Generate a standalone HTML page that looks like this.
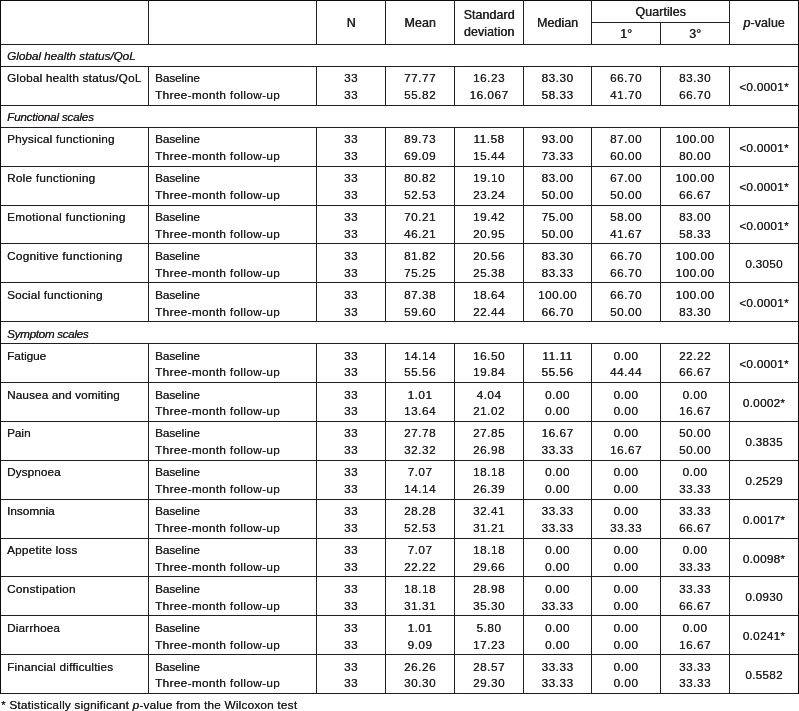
<!DOCTYPE html>
<html><head><meta charset="utf-8"><title>Table</title>
<style>
html,body{margin:0;padding:0;background:#fff;}
body{width:799px;height:711px;overflow:hidden;position:relative;}
.l{position:absolute;display:block;background:#231f20;}
.e{background:#0d0a0b;}
.t{position:absolute;white-space:nowrap;font-family:"Liberation Sans",sans-serif;font-size:11.8px;line-height:17px;height:17px;color:#231f20;letter-spacing:0.25px;text-shadow:0.2px 0 0 #231f20;}
.n{letter-spacing:0.5px;}
.c{text-align:center;}
.h{text-shadow:0.45px 0 0 #231f20;font-size:12.4px;letter-spacing:0.1px;}
.s{font-style:italic;}

em{font-style:italic;}
</style></head><body>
<i class="l e" style="left:0px;top:0px;width:799px;height:1px"></i>
<i class="l" style="left:0px;top:44px;width:799px;height:1px"></i>
<i class="l" style="left:0px;top:66px;width:799px;height:1px"></i>
<i class="l" style="left:0px;top:105px;width:799px;height:1px"></i>
<i class="l" style="left:0px;top:127px;width:799px;height:1px"></i>
<i class="l" style="left:0px;top:166px;width:799px;height:1px"></i>
<i class="l" style="left:0px;top:205px;width:799px;height:1px"></i>
<i class="l" style="left:0px;top:243px;width:799px;height:1px"></i>
<i class="l" style="left:0px;top:282px;width:799px;height:1px"></i>
<i class="l" style="left:0px;top:321px;width:799px;height:1px"></i>
<i class="l" style="left:0px;top:343px;width:799px;height:1px"></i>
<i class="l" style="left:0px;top:382px;width:799px;height:1px"></i>
<i class="l" style="left:0px;top:421px;width:799px;height:1px"></i>
<i class="l" style="left:0px;top:460px;width:799px;height:1px"></i>
<i class="l" style="left:0px;top:499px;width:799px;height:1px"></i>
<i class="l" style="left:0px;top:538px;width:799px;height:1px"></i>
<i class="l" style="left:0px;top:576px;width:799px;height:1px"></i>
<i class="l" style="left:0px;top:615px;width:799px;height:1px"></i>
<i class="l" style="left:0px;top:654px;width:799px;height:1px"></i>
<i class="l" style="left:0px;top:693px;width:799px;height:1px"></i>
<i class="l" style="left:591px;top:22px;width:139px;height:1px"></i>
<i class="l e" style="left:0px;top:0px;width:1px;height:694px"></i>
<i class="l e" style="left:798px;top:0px;width:1px;height:694px"></i>
<i class="l" style="left:148px;top:0px;width:1px;height:45px"></i>
<i class="l" style="left:316px;top:0px;width:1px;height:45px"></i>
<i class="l" style="left:385px;top:0px;width:1px;height:45px"></i>
<i class="l" style="left:454px;top:0px;width:1px;height:45px"></i>
<i class="l" style="left:523px;top:0px;width:1px;height:45px"></i>
<i class="l" style="left:591px;top:0px;width:1px;height:45px"></i>
<i class="l" style="left:660px;top:22px;width:1px;height:23px"></i>
<i class="l" style="left:729px;top:0px;width:1px;height:45px"></i>
<i class="l" style="left:148px;top:66px;width:1px;height:40px"></i>
<i class="l" style="left:316px;top:66px;width:1px;height:40px"></i>
<i class="l" style="left:385px;top:66px;width:1px;height:40px"></i>
<i class="l" style="left:454px;top:66px;width:1px;height:40px"></i>
<i class="l" style="left:523px;top:66px;width:1px;height:40px"></i>
<i class="l" style="left:591px;top:66px;width:1px;height:40px"></i>
<i class="l" style="left:660px;top:66px;width:1px;height:40px"></i>
<i class="l" style="left:729px;top:66px;width:1px;height:40px"></i>
<i class="l" style="left:148px;top:127px;width:1px;height:40px"></i>
<i class="l" style="left:316px;top:127px;width:1px;height:40px"></i>
<i class="l" style="left:385px;top:127px;width:1px;height:40px"></i>
<i class="l" style="left:454px;top:127px;width:1px;height:40px"></i>
<i class="l" style="left:523px;top:127px;width:1px;height:40px"></i>
<i class="l" style="left:591px;top:127px;width:1px;height:40px"></i>
<i class="l" style="left:660px;top:127px;width:1px;height:40px"></i>
<i class="l" style="left:729px;top:127px;width:1px;height:40px"></i>
<i class="l" style="left:148px;top:166px;width:1px;height:40px"></i>
<i class="l" style="left:316px;top:166px;width:1px;height:40px"></i>
<i class="l" style="left:385px;top:166px;width:1px;height:40px"></i>
<i class="l" style="left:454px;top:166px;width:1px;height:40px"></i>
<i class="l" style="left:523px;top:166px;width:1px;height:40px"></i>
<i class="l" style="left:591px;top:166px;width:1px;height:40px"></i>
<i class="l" style="left:660px;top:166px;width:1px;height:40px"></i>
<i class="l" style="left:729px;top:166px;width:1px;height:40px"></i>
<i class="l" style="left:148px;top:205px;width:1px;height:39px"></i>
<i class="l" style="left:316px;top:205px;width:1px;height:39px"></i>
<i class="l" style="left:385px;top:205px;width:1px;height:39px"></i>
<i class="l" style="left:454px;top:205px;width:1px;height:39px"></i>
<i class="l" style="left:523px;top:205px;width:1px;height:39px"></i>
<i class="l" style="left:591px;top:205px;width:1px;height:39px"></i>
<i class="l" style="left:660px;top:205px;width:1px;height:39px"></i>
<i class="l" style="left:729px;top:205px;width:1px;height:39px"></i>
<i class="l" style="left:148px;top:243px;width:1px;height:40px"></i>
<i class="l" style="left:316px;top:243px;width:1px;height:40px"></i>
<i class="l" style="left:385px;top:243px;width:1px;height:40px"></i>
<i class="l" style="left:454px;top:243px;width:1px;height:40px"></i>
<i class="l" style="left:523px;top:243px;width:1px;height:40px"></i>
<i class="l" style="left:591px;top:243px;width:1px;height:40px"></i>
<i class="l" style="left:660px;top:243px;width:1px;height:40px"></i>
<i class="l" style="left:729px;top:243px;width:1px;height:40px"></i>
<i class="l" style="left:148px;top:282px;width:1px;height:40px"></i>
<i class="l" style="left:316px;top:282px;width:1px;height:40px"></i>
<i class="l" style="left:385px;top:282px;width:1px;height:40px"></i>
<i class="l" style="left:454px;top:282px;width:1px;height:40px"></i>
<i class="l" style="left:523px;top:282px;width:1px;height:40px"></i>
<i class="l" style="left:591px;top:282px;width:1px;height:40px"></i>
<i class="l" style="left:660px;top:282px;width:1px;height:40px"></i>
<i class="l" style="left:729px;top:282px;width:1px;height:40px"></i>
<i class="l" style="left:148px;top:343px;width:1px;height:40px"></i>
<i class="l" style="left:316px;top:343px;width:1px;height:40px"></i>
<i class="l" style="left:385px;top:343px;width:1px;height:40px"></i>
<i class="l" style="left:454px;top:343px;width:1px;height:40px"></i>
<i class="l" style="left:523px;top:343px;width:1px;height:40px"></i>
<i class="l" style="left:591px;top:343px;width:1px;height:40px"></i>
<i class="l" style="left:660px;top:343px;width:1px;height:40px"></i>
<i class="l" style="left:729px;top:343px;width:1px;height:40px"></i>
<i class="l" style="left:148px;top:382px;width:1px;height:40px"></i>
<i class="l" style="left:316px;top:382px;width:1px;height:40px"></i>
<i class="l" style="left:385px;top:382px;width:1px;height:40px"></i>
<i class="l" style="left:454px;top:382px;width:1px;height:40px"></i>
<i class="l" style="left:523px;top:382px;width:1px;height:40px"></i>
<i class="l" style="left:591px;top:382px;width:1px;height:40px"></i>
<i class="l" style="left:660px;top:382px;width:1px;height:40px"></i>
<i class="l" style="left:729px;top:382px;width:1px;height:40px"></i>
<i class="l" style="left:148px;top:421px;width:1px;height:40px"></i>
<i class="l" style="left:316px;top:421px;width:1px;height:40px"></i>
<i class="l" style="left:385px;top:421px;width:1px;height:40px"></i>
<i class="l" style="left:454px;top:421px;width:1px;height:40px"></i>
<i class="l" style="left:523px;top:421px;width:1px;height:40px"></i>
<i class="l" style="left:591px;top:421px;width:1px;height:40px"></i>
<i class="l" style="left:660px;top:421px;width:1px;height:40px"></i>
<i class="l" style="left:729px;top:421px;width:1px;height:40px"></i>
<i class="l" style="left:148px;top:460px;width:1px;height:40px"></i>
<i class="l" style="left:316px;top:460px;width:1px;height:40px"></i>
<i class="l" style="left:385px;top:460px;width:1px;height:40px"></i>
<i class="l" style="left:454px;top:460px;width:1px;height:40px"></i>
<i class="l" style="left:523px;top:460px;width:1px;height:40px"></i>
<i class="l" style="left:591px;top:460px;width:1px;height:40px"></i>
<i class="l" style="left:660px;top:460px;width:1px;height:40px"></i>
<i class="l" style="left:729px;top:460px;width:1px;height:40px"></i>
<i class="l" style="left:148px;top:499px;width:1px;height:40px"></i>
<i class="l" style="left:316px;top:499px;width:1px;height:40px"></i>
<i class="l" style="left:385px;top:499px;width:1px;height:40px"></i>
<i class="l" style="left:454px;top:499px;width:1px;height:40px"></i>
<i class="l" style="left:523px;top:499px;width:1px;height:40px"></i>
<i class="l" style="left:591px;top:499px;width:1px;height:40px"></i>
<i class="l" style="left:660px;top:499px;width:1px;height:40px"></i>
<i class="l" style="left:729px;top:499px;width:1px;height:40px"></i>
<i class="l" style="left:148px;top:538px;width:1px;height:39px"></i>
<i class="l" style="left:316px;top:538px;width:1px;height:39px"></i>
<i class="l" style="left:385px;top:538px;width:1px;height:39px"></i>
<i class="l" style="left:454px;top:538px;width:1px;height:39px"></i>
<i class="l" style="left:523px;top:538px;width:1px;height:39px"></i>
<i class="l" style="left:591px;top:538px;width:1px;height:39px"></i>
<i class="l" style="left:660px;top:538px;width:1px;height:39px"></i>
<i class="l" style="left:729px;top:538px;width:1px;height:39px"></i>
<i class="l" style="left:148px;top:576px;width:1px;height:40px"></i>
<i class="l" style="left:316px;top:576px;width:1px;height:40px"></i>
<i class="l" style="left:385px;top:576px;width:1px;height:40px"></i>
<i class="l" style="left:454px;top:576px;width:1px;height:40px"></i>
<i class="l" style="left:523px;top:576px;width:1px;height:40px"></i>
<i class="l" style="left:591px;top:576px;width:1px;height:40px"></i>
<i class="l" style="left:660px;top:576px;width:1px;height:40px"></i>
<i class="l" style="left:729px;top:576px;width:1px;height:40px"></i>
<i class="l" style="left:148px;top:615px;width:1px;height:40px"></i>
<i class="l" style="left:316px;top:615px;width:1px;height:40px"></i>
<i class="l" style="left:385px;top:615px;width:1px;height:40px"></i>
<i class="l" style="left:454px;top:615px;width:1px;height:40px"></i>
<i class="l" style="left:523px;top:615px;width:1px;height:40px"></i>
<i class="l" style="left:591px;top:615px;width:1px;height:40px"></i>
<i class="l" style="left:660px;top:615px;width:1px;height:40px"></i>
<i class="l" style="left:729px;top:615px;width:1px;height:40px"></i>
<i class="l" style="left:148px;top:654px;width:1px;height:40px"></i>
<i class="l" style="left:316px;top:654px;width:1px;height:40px"></i>
<i class="l" style="left:385px;top:654px;width:1px;height:40px"></i>
<i class="l" style="left:454px;top:654px;width:1px;height:40px"></i>
<i class="l" style="left:523px;top:654px;width:1px;height:40px"></i>
<i class="l" style="left:591px;top:654px;width:1px;height:40px"></i>
<i class="l" style="left:660px;top:654px;width:1px;height:40px"></i>
<i class="l" style="left:729px;top:654px;width:1px;height:40px"></i>
<div class="t c h" style="left:317px;top:15.30px;width:68px">N</div>
<div class="t c h" style="left:386px;top:15.30px;width:68px">Mean</div>
<div class="t c h" style="left:455px;top:7.00px;width:68px">Standard</div>
<div class="t c h" style="left:455px;top:24.00px;width:68px">deviation</div>
<div class="t c h" style="left:524px;top:15.30px;width:67px">Median</div>
<div class="t c h" style="left:592px;top:3.90px;width:137px">Quartiles</div>
<div class="t c h" style="left:592px;top:25.80px;width:68px">1°</div>
<div class="t c h" style="left:661px;top:25.80px;width:68px">3°</div>
<div class="t c h" style="left:730px;top:15.30px;width:68px"><em>p</em>-value</div>
<div class="t s" style="left:7px;top:48.30px;letter-spacing:-0.05px">Global health status/QoL</div>
<div class="t s" style="left:7px;top:109.30px;letter-spacing:-0.27px">Functional scales</div>
<div class="t s" style="left:7px;top:326.30px;letter-spacing:-0.38px">Symptom scales</div>
<div class="t" style="left:7px;top:70.30px;letter-spacing:0.191px">Global health status/QoL</div>
<div class="t" style="left:155px;top:70.30px;letter-spacing:-0.071px">Baseline</div>
<div class="t" style="left:155px;top:87.30px;letter-spacing:0.335px">Three-month follow-up</div>
<div class="t c n" style="left:317px;top:70.30px;width:68px">33</div>
<div class="t c n" style="left:317px;top:87.30px;width:68px">33</div>
<div class="t c n" style="left:386px;top:70.30px;width:68px">77.77</div>
<div class="t c n" style="left:386px;top:87.30px;width:68px">55.82</div>
<div class="t c n" style="left:455px;top:70.30px;width:68px">16.23</div>
<div class="t c n" style="left:455px;top:87.30px;width:68px">16.067</div>
<div class="t c n" style="left:524px;top:70.30px;width:67px">83.30</div>
<div class="t c n" style="left:524px;top:87.30px;width:67px">58.33</div>
<div class="t c n" style="left:592px;top:70.30px;width:68px">66.70</div>
<div class="t c n" style="left:592px;top:87.30px;width:68px">41.70</div>
<div class="t c n" style="left:661px;top:70.30px;width:68px">83.30</div>
<div class="t c n" style="left:661px;top:87.30px;width:68px">66.70</div>
<div class="t c" style="left:730px;top:79.30px;width:68px">&lt;0.0001*</div>
<div class="t" style="left:7px;top:131.30px;letter-spacing:0.168px">Physical functioning</div>
<div class="t" style="left:155px;top:131.30px;letter-spacing:-0.071px">Baseline</div>
<div class="t" style="left:155px;top:148.30px;letter-spacing:0.335px">Three-month follow-up</div>
<div class="t c n" style="left:317px;top:131.30px;width:68px">33</div>
<div class="t c n" style="left:317px;top:148.30px;width:68px">33</div>
<div class="t c n" style="left:386px;top:131.30px;width:68px">89.73</div>
<div class="t c n" style="left:386px;top:148.30px;width:68px">69.09</div>
<div class="t c n" style="left:455px;top:131.30px;width:68px">11.58</div>
<div class="t c n" style="left:455px;top:148.30px;width:68px">15.44</div>
<div class="t c n" style="left:524px;top:131.30px;width:67px">93.00</div>
<div class="t c n" style="left:524px;top:148.30px;width:67px">73.33</div>
<div class="t c n" style="left:592px;top:131.30px;width:68px">87.00</div>
<div class="t c n" style="left:592px;top:148.30px;width:68px">60.00</div>
<div class="t c n" style="left:661px;top:131.30px;width:68px">100.00</div>
<div class="t c n" style="left:661px;top:148.30px;width:68px">80.00</div>
<div class="t c" style="left:730px;top:140.30px;width:68px">&lt;0.0001*</div>
<div class="t" style="left:7px;top:170.30px;letter-spacing:0.233px">Role functioning</div>
<div class="t" style="left:155px;top:170.30px;letter-spacing:-0.071px">Baseline</div>
<div class="t" style="left:155px;top:187.30px;letter-spacing:0.335px">Three-month follow-up</div>
<div class="t c n" style="left:317px;top:170.30px;width:68px">33</div>
<div class="t c n" style="left:317px;top:187.30px;width:68px">33</div>
<div class="t c n" style="left:386px;top:170.30px;width:68px">80.82</div>
<div class="t c n" style="left:386px;top:187.30px;width:68px">52.53</div>
<div class="t c n" style="left:455px;top:170.30px;width:68px">19.10</div>
<div class="t c n" style="left:455px;top:187.30px;width:68px">23.24</div>
<div class="t c n" style="left:524px;top:170.30px;width:67px">83.00</div>
<div class="t c n" style="left:524px;top:187.30px;width:67px">50.00</div>
<div class="t c n" style="left:592px;top:170.30px;width:68px">67.00</div>
<div class="t c n" style="left:592px;top:187.30px;width:68px">50.00</div>
<div class="t c n" style="left:661px;top:170.30px;width:68px">100.00</div>
<div class="t c n" style="left:661px;top:187.30px;width:68px">66.67</div>
<div class="t c" style="left:730px;top:179.30px;width:68px">&lt;0.0001*</div>
<div class="t" style="left:7px;top:209.30px;letter-spacing:0.275px">Emotional functioning</div>
<div class="t" style="left:155px;top:209.30px;letter-spacing:-0.071px">Baseline</div>
<div class="t" style="left:155px;top:226.30px;letter-spacing:0.335px">Three-month follow-up</div>
<div class="t c n" style="left:317px;top:209.30px;width:68px">33</div>
<div class="t c n" style="left:317px;top:226.30px;width:68px">33</div>
<div class="t c n" style="left:386px;top:209.30px;width:68px">70.21</div>
<div class="t c n" style="left:386px;top:226.30px;width:68px">46.21</div>
<div class="t c n" style="left:455px;top:209.30px;width:68px">19.42</div>
<div class="t c n" style="left:455px;top:226.30px;width:68px">20.95</div>
<div class="t c n" style="left:524px;top:209.30px;width:67px">75.00</div>
<div class="t c n" style="left:524px;top:226.30px;width:67px">50.00</div>
<div class="t c n" style="left:592px;top:209.30px;width:68px">58.00</div>
<div class="t c n" style="left:592px;top:226.30px;width:68px">41.67</div>
<div class="t c n" style="left:661px;top:209.30px;width:68px">83.00</div>
<div class="t c n" style="left:661px;top:226.30px;width:68px">58.33</div>
<div class="t c" style="left:730px;top:218.30px;width:68px">&lt;0.0001*</div>
<div class="t" style="left:7px;top:248.30px;letter-spacing:0.285px">Cognitive functioning</div>
<div class="t" style="left:155px;top:248.30px;letter-spacing:-0.071px">Baseline</div>
<div class="t" style="left:155px;top:265.30px;letter-spacing:0.335px">Three-month follow-up</div>
<div class="t c n" style="left:317px;top:248.30px;width:68px">33</div>
<div class="t c n" style="left:317px;top:265.30px;width:68px">33</div>
<div class="t c n" style="left:386px;top:248.30px;width:68px">81.82</div>
<div class="t c n" style="left:386px;top:265.30px;width:68px">75.25</div>
<div class="t c n" style="left:455px;top:248.30px;width:68px">20.56</div>
<div class="t c n" style="left:455px;top:265.30px;width:68px">25.38</div>
<div class="t c n" style="left:524px;top:248.30px;width:67px">83.30</div>
<div class="t c n" style="left:524px;top:265.30px;width:67px">83.33</div>
<div class="t c n" style="left:592px;top:248.30px;width:68px">66.70</div>
<div class="t c n" style="left:592px;top:265.30px;width:68px">66.70</div>
<div class="t c n" style="left:661px;top:248.30px;width:68px">100.00</div>
<div class="t c n" style="left:661px;top:265.30px;width:68px">100.00</div>
<div class="t c" style="left:730px;top:256.30px;width:68px">0.3050</div>
<div class="t" style="left:7px;top:287.30px;letter-spacing:0.176px">Social functioning</div>
<div class="t" style="left:155px;top:287.30px;letter-spacing:-0.071px">Baseline</div>
<div class="t" style="left:155px;top:304.30px;letter-spacing:0.335px">Three-month follow-up</div>
<div class="t c n" style="left:317px;top:287.30px;width:68px">33</div>
<div class="t c n" style="left:317px;top:304.30px;width:68px">33</div>
<div class="t c n" style="left:386px;top:287.30px;width:68px">87.38</div>
<div class="t c n" style="left:386px;top:304.30px;width:68px">59.60</div>
<div class="t c n" style="left:455px;top:287.30px;width:68px">18.64</div>
<div class="t c n" style="left:455px;top:304.30px;width:68px">22.44</div>
<div class="t c n" style="left:524px;top:287.30px;width:67px">100.00</div>
<div class="t c n" style="left:524px;top:304.30px;width:67px">66.70</div>
<div class="t c n" style="left:592px;top:287.30px;width:68px">66.70</div>
<div class="t c n" style="left:592px;top:304.30px;width:68px">50.00</div>
<div class="t c n" style="left:661px;top:287.30px;width:68px">100.00</div>
<div class="t c n" style="left:661px;top:304.30px;width:68px">83.30</div>
<div class="t c" style="left:730px;top:295.30px;width:68px">&lt;0.0001*</div>
<div class="t" style="left:7px;top:348.30px;letter-spacing:-0.033px">Fatigue</div>
<div class="t" style="left:155px;top:348.30px;letter-spacing:-0.071px">Baseline</div>
<div class="t" style="left:155px;top:364.30px;letter-spacing:0.335px">Three-month follow-up</div>
<div class="t c n" style="left:317px;top:348.30px;width:68px">33</div>
<div class="t c n" style="left:317px;top:364.30px;width:68px">33</div>
<div class="t c n" style="left:386px;top:348.30px;width:68px">14.14</div>
<div class="t c n" style="left:386px;top:364.30px;width:68px">55.56</div>
<div class="t c n" style="left:455px;top:348.30px;width:68px">16.50</div>
<div class="t c n" style="left:455px;top:364.30px;width:68px">19.84</div>
<div class="t c n" style="left:524px;top:348.30px;width:67px">11.11</div>
<div class="t c n" style="left:524px;top:364.30px;width:67px">55.56</div>
<div class="t c n" style="left:592px;top:348.30px;width:68px">0.00</div>
<div class="t c n" style="left:592px;top:364.30px;width:68px">44.44</div>
<div class="t c n" style="left:661px;top:348.30px;width:68px">22.22</div>
<div class="t c n" style="left:661px;top:364.30px;width:68px">66.67</div>
<div class="t c" style="left:730px;top:356.30px;width:68px">&lt;0.0001*</div>
<div class="t" style="left:7px;top:387.30px;letter-spacing:0.106px">Nausea and vomiting</div>
<div class="t" style="left:155px;top:387.30px;letter-spacing:-0.071px">Baseline</div>
<div class="t" style="left:155px;top:403.30px;letter-spacing:0.335px">Three-month follow-up</div>
<div class="t c n" style="left:317px;top:387.30px;width:68px">33</div>
<div class="t c n" style="left:317px;top:403.30px;width:68px">33</div>
<div class="t c n" style="left:386px;top:387.30px;width:68px">1.01</div>
<div class="t c n" style="left:386px;top:403.30px;width:68px">13.64</div>
<div class="t c n" style="left:455px;top:387.30px;width:68px">4.04</div>
<div class="t c n" style="left:455px;top:403.30px;width:68px">21.02</div>
<div class="t c n" style="left:524px;top:387.30px;width:67px">0.00</div>
<div class="t c n" style="left:524px;top:403.30px;width:67px">0.00</div>
<div class="t c n" style="left:592px;top:387.30px;width:68px">0.00</div>
<div class="t c n" style="left:592px;top:403.30px;width:68px">0.00</div>
<div class="t c n" style="left:661px;top:387.30px;width:68px">0.00</div>
<div class="t c n" style="left:661px;top:403.30px;width:68px">16.67</div>
<div class="t c" style="left:730px;top:395.30px;width:68px">0.0002*</div>
<div class="t" style="left:7px;top:425.30px;letter-spacing:-0.033px">Pain</div>
<div class="t" style="left:155px;top:425.30px;letter-spacing:-0.071px">Baseline</div>
<div class="t" style="left:155px;top:442.30px;letter-spacing:0.335px">Three-month follow-up</div>
<div class="t c n" style="left:317px;top:425.30px;width:68px">33</div>
<div class="t c n" style="left:317px;top:442.30px;width:68px">33</div>
<div class="t c n" style="left:386px;top:425.30px;width:68px">27.78</div>
<div class="t c n" style="left:386px;top:442.30px;width:68px">32.32</div>
<div class="t c n" style="left:455px;top:425.30px;width:68px">27.85</div>
<div class="t c n" style="left:455px;top:442.30px;width:68px">26.98</div>
<div class="t c n" style="left:524px;top:425.30px;width:67px">16.67</div>
<div class="t c n" style="left:524px;top:442.30px;width:67px">33.33</div>
<div class="t c n" style="left:592px;top:425.30px;width:68px">0.00</div>
<div class="t c n" style="left:592px;top:442.30px;width:68px">16.67</div>
<div class="t c n" style="left:661px;top:425.30px;width:68px">50.00</div>
<div class="t c n" style="left:661px;top:442.30px;width:68px">50.00</div>
<div class="t c" style="left:730px;top:434.30px;width:68px">0.3835</div>
<div class="t" style="left:7px;top:464.30px;letter-spacing:0.071px">Dyspnoea</div>
<div class="t" style="left:155px;top:464.30px;letter-spacing:-0.071px">Baseline</div>
<div class="t" style="left:155px;top:481.30px;letter-spacing:0.335px">Three-month follow-up</div>
<div class="t c n" style="left:317px;top:464.30px;width:68px">33</div>
<div class="t c n" style="left:317px;top:481.30px;width:68px">33</div>
<div class="t c n" style="left:386px;top:464.30px;width:68px">7.07</div>
<div class="t c n" style="left:386px;top:481.30px;width:68px">14.14</div>
<div class="t c n" style="left:455px;top:464.30px;width:68px">18.18</div>
<div class="t c n" style="left:455px;top:481.30px;width:68px">26.39</div>
<div class="t c n" style="left:524px;top:464.30px;width:67px">0.00</div>
<div class="t c n" style="left:524px;top:481.30px;width:67px">0.00</div>
<div class="t c n" style="left:592px;top:464.30px;width:68px">0.00</div>
<div class="t c n" style="left:592px;top:481.30px;width:68px">0.00</div>
<div class="t c n" style="left:661px;top:464.30px;width:68px">0.00</div>
<div class="t c n" style="left:661px;top:481.30px;width:68px">33.33</div>
<div class="t c" style="left:730px;top:473.30px;width:68px">0.2529</div>
<div class="t" style="left:7px;top:503.30px;letter-spacing:-0.029px">Insomnia</div>
<div class="t" style="left:155px;top:503.30px;letter-spacing:-0.071px">Baseline</div>
<div class="t" style="left:155px;top:520.30px;letter-spacing:0.335px">Three-month follow-up</div>
<div class="t c n" style="left:317px;top:503.30px;width:68px">33</div>
<div class="t c n" style="left:317px;top:520.30px;width:68px">33</div>
<div class="t c n" style="left:386px;top:503.30px;width:68px">28.28</div>
<div class="t c n" style="left:386px;top:520.30px;width:68px">52.53</div>
<div class="t c n" style="left:455px;top:503.30px;width:68px">32.41</div>
<div class="t c n" style="left:455px;top:520.30px;width:68px">31.21</div>
<div class="t c n" style="left:524px;top:503.30px;width:67px">33.33</div>
<div class="t c n" style="left:524px;top:520.30px;width:67px">33.33</div>
<div class="t c n" style="left:592px;top:503.30px;width:68px">0.00</div>
<div class="t c n" style="left:592px;top:520.30px;width:68px">33.33</div>
<div class="t c n" style="left:661px;top:503.30px;width:68px">33.33</div>
<div class="t c n" style="left:661px;top:520.30px;width:68px">66.67</div>
<div class="t c" style="left:730px;top:512.30px;width:68px">0.0017*</div>
<div class="t" style="left:7px;top:542.30px;letter-spacing:0.217px">Appetite loss</div>
<div class="t" style="left:155px;top:542.30px;letter-spacing:-0.071px">Baseline</div>
<div class="t" style="left:155px;top:559.30px;letter-spacing:0.335px">Three-month follow-up</div>
<div class="t c n" style="left:317px;top:542.30px;width:68px">33</div>
<div class="t c n" style="left:317px;top:559.30px;width:68px">33</div>
<div class="t c n" style="left:386px;top:542.30px;width:68px">7.07</div>
<div class="t c n" style="left:386px;top:559.30px;width:68px">22.22</div>
<div class="t c n" style="left:455px;top:542.30px;width:68px">18.18</div>
<div class="t c n" style="left:455px;top:559.30px;width:68px">29.66</div>
<div class="t c n" style="left:524px;top:542.30px;width:67px">0.00</div>
<div class="t c n" style="left:524px;top:559.30px;width:67px">0.00</div>
<div class="t c n" style="left:592px;top:542.30px;width:68px">0.00</div>
<div class="t c n" style="left:592px;top:559.30px;width:68px">0.00</div>
<div class="t c n" style="left:661px;top:542.30px;width:68px">0.00</div>
<div class="t c n" style="left:661px;top:559.30px;width:68px">33.33</div>
<div class="t c" style="left:730px;top:551.30px;width:68px">0.0098*</div>
<div class="t" style="left:7px;top:581.30px;letter-spacing:0.264px">Constipation</div>
<div class="t" style="left:155px;top:581.30px;letter-spacing:-0.071px">Baseline</div>
<div class="t" style="left:155px;top:598.30px;letter-spacing:0.335px">Three-month follow-up</div>
<div class="t c n" style="left:317px;top:581.30px;width:68px">33</div>
<div class="t c n" style="left:317px;top:598.30px;width:68px">33</div>
<div class="t c n" style="left:386px;top:581.30px;width:68px">18.18</div>
<div class="t c n" style="left:386px;top:598.30px;width:68px">31.31</div>
<div class="t c n" style="left:455px;top:581.30px;width:68px">28.98</div>
<div class="t c n" style="left:455px;top:598.30px;width:68px">35.30</div>
<div class="t c n" style="left:524px;top:581.30px;width:67px">0.00</div>
<div class="t c n" style="left:524px;top:598.30px;width:67px">33.33</div>
<div class="t c n" style="left:592px;top:581.30px;width:68px">0.00</div>
<div class="t c n" style="left:592px;top:598.30px;width:68px">0.00</div>
<div class="t c n" style="left:661px;top:581.30px;width:68px">33.33</div>
<div class="t c n" style="left:661px;top:598.30px;width:68px">66.67</div>
<div class="t c" style="left:730px;top:589.30px;width:68px">0.0930</div>
<div class="t" style="left:7px;top:620.30px;letter-spacing:0.138px">Diarrhoea</div>
<div class="t" style="left:155px;top:620.30px;letter-spacing:-0.071px">Baseline</div>
<div class="t" style="left:155px;top:637.30px;letter-spacing:0.335px">Three-month follow-up</div>
<div class="t c n" style="left:317px;top:620.30px;width:68px">33</div>
<div class="t c n" style="left:317px;top:637.30px;width:68px">33</div>
<div class="t c n" style="left:386px;top:620.30px;width:68px">1.01</div>
<div class="t c n" style="left:386px;top:637.30px;width:68px">9.09</div>
<div class="t c n" style="left:455px;top:620.30px;width:68px">5.80</div>
<div class="t c n" style="left:455px;top:637.30px;width:68px">17.23</div>
<div class="t c n" style="left:524px;top:620.30px;width:67px">0.00</div>
<div class="t c n" style="left:524px;top:637.30px;width:67px">0.00</div>
<div class="t c n" style="left:592px;top:620.30px;width:68px">0.00</div>
<div class="t c n" style="left:592px;top:637.30px;width:68px">0.00</div>
<div class="t c n" style="left:661px;top:620.30px;width:68px">0.00</div>
<div class="t c n" style="left:661px;top:637.30px;width:68px">16.67</div>
<div class="t c" style="left:730px;top:628.30px;width:68px">0.0241*</div>
<div class="t" style="left:7px;top:659.30px;letter-spacing:0.19px">Financial difficulties</div>
<div class="t" style="left:155px;top:659.30px;letter-spacing:-0.071px">Baseline</div>
<div class="t" style="left:155px;top:675.30px;letter-spacing:0.335px">Three-month follow-up</div>
<div class="t c n" style="left:317px;top:659.30px;width:68px">33</div>
<div class="t c n" style="left:317px;top:675.30px;width:68px">33</div>
<div class="t c n" style="left:386px;top:659.30px;width:68px">26.26</div>
<div class="t c n" style="left:386px;top:675.30px;width:68px">30.30</div>
<div class="t c n" style="left:455px;top:659.30px;width:68px">28.57</div>
<div class="t c n" style="left:455px;top:675.30px;width:68px">29.30</div>
<div class="t c n" style="left:524px;top:659.30px;width:67px">33.33</div>
<div class="t c n" style="left:524px;top:675.30px;width:67px">33.33</div>
<div class="t c n" style="left:592px;top:659.30px;width:68px">0.00</div>
<div class="t c n" style="left:592px;top:675.30px;width:68px">0.00</div>
<div class="t c n" style="left:661px;top:659.30px;width:68px">33.33</div>
<div class="t c n" style="left:661px;top:675.30px;width:68px">33.33</div>
<div class="t c" style="left:730px;top:667.30px;width:68px">0.5582</div>
<div class="t" style="left:1px;top:697.30px;letter-spacing:0.2px">* Statistically significant <em>p</em>-value from the Wilcoxon test</div>
</body></html>
